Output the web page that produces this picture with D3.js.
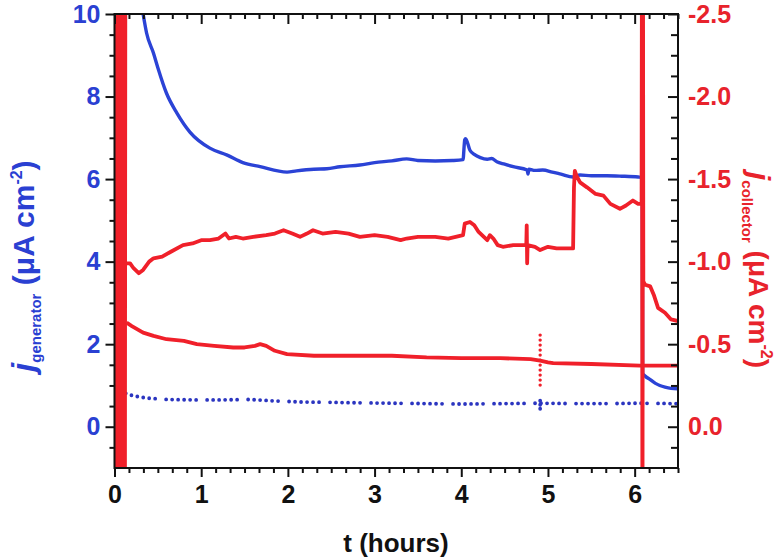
<!DOCTYPE html>
<html>
<head>
<meta charset="utf-8">
<script src="https://cdn.jsdelivr.net/npm/d3@7"></script>
<style>
  body { margin: 0; background: #fff; }
  text { font-family: "Liberation Sans", Arial, sans-serif; font-weight: bold; }
</style>
</head>
<body>
<svg id="chart"></svg>
<script>
// axis ticks
const hourTicks = [0, 1, 2, 3, 4, 5, 6];
const genTicks = [0, 2, 4, 6, 8, 10];
const colTicks = [-2.5, -2.0, -1.5, -1.0, -0.5, 0.0];

// generator current, solid trace (µA cm-2)
const genT = [0.33, 0.37, 0.45, 0.5, 0.6, 0.72, 0.87, 1.1, 1.3, 1.48, 1.68, 1.99, 2.1, 2.3, 2.45, 2.6, 2.83, 3.0, 3.2, 3.37, 3.5, 3.7, 3.9, 4.02, 4.04, 4.05, 4.1, 4.15, 4.22, 4.3, 4.35, 4.41, 4.5, 4.6, 4.76, 4.77, 4.78, 4.85, 4.94, 5.05, 5.15, 5.29, 5.37, 5.5, 5.68, 5.85, 6.04, 6.088, 6.092, 6.12, 6.18, 6.24, 6.29, 6.35, 6.42, 6.5];
const genJ = [10.0, 9.54, 9.05, 8.7, 8.08, 7.6, 7.14, 6.75, 6.58, 6.4, 6.3, 6.17, 6.2, 6.24, 6.25, 6.3, 6.34, 6.4, 6.44, 6.49, 6.45, 6.44, 6.45, 6.47, 6.95, 6.98, 6.7, 6.6, 6.52, 6.48, 6.5, 6.42, 6.36, 6.3, 6.22, 6.12, 6.24, 6.21, 6.22, 6.17, 6.12, 6.05, 6.1, 6.08, 6.08, 6.07, 6.05, 6.04, 1.3, 1.23, 1.14, 1.05, 1.0, 0.96, 0.93, 0.92];

// generator current, dotted trace
const genDotT = [0.13, 0.2, 0.29, 0.4, 0.6, 0.9, 1.2, 1.56, 1.8, 2.14, 2.5, 2.8, 3.2, 3.6, 4.0, 4.5, 4.91, 5.3, 5.7, 6.06, 6.5];
const genDotJ = [0.81, 0.76, 0.72, 0.69, 0.66, 0.65, 0.65, 0.66, 0.63, 0.6, 0.59, 0.58, 0.57, 0.56, 0.55, 0.56, 0.57, 0.56, 0.56, 0.57, 0.56];
const genDotSpikeT = [4.91, 4.91];
const genDotSpikeJ = [0.63, 0.41];

// collector current, upper trace (µA cm-2, right axis)
const colUpT = [0.14, 0.18, 0.22, 0.28, 0.33, 0.4, 0.45, 0.55, 0.65, 0.79, 0.9, 1.0, 1.1, 1.2, 1.28, 1.32, 1.4, 1.48, 1.6, 1.75, 1.85, 1.95, 2.05, 2.14, 2.22, 2.29, 2.4, 2.55, 2.7, 2.83, 3.0, 3.15, 3.3, 3.37, 3.5, 3.7, 3.85, 4.02, 4.04, 4.1, 4.15, 4.2, 4.3, 4.33, 4.37, 4.42, 4.48, 4.6, 4.75, 4.755, 4.76, 4.765, 4.85, 4.91, 5.0, 5.1, 5.2, 5.29, 5.3, 5.31, 5.33, 5.37, 5.45, 5.55, 5.64, 5.72, 5.83, 5.9, 5.98, 6.04, 6.08, 6.084, 6.09, 6.096, 6.1, 6.12, 6.18, 6.22, 6.27, 6.35, 6.42, 6.5];
const colUpJ = [-0.99, -0.99, -0.96, -0.93, -0.95, -1.0, -1.02, -1.03, -1.06, -1.1, -1.11, -1.13, -1.13, -1.14, -1.17, -1.14, -1.15, -1.14, -1.15, -1.16, -1.17, -1.19, -1.17, -1.15, -1.17, -1.19, -1.17, -1.18, -1.17, -1.15, -1.16, -1.15, -1.13, -1.14, -1.15, -1.15, -1.14, -1.16, -1.23, -1.24, -1.22, -1.18, -1.13, -1.16, -1.14, -1.1, -1.09, -1.1, -1.1, -1.22, -0.99, -1.1, -1.09, -1.07, -1.09, -1.08, -1.08, -1.08, -1.45, -1.55, -1.52, -1.48, -1.45, -1.41, -1.4, -1.35, -1.32, -1.34, -1.37, -1.35, -1.35, -3.0, 1.0, -3.0, -0.88, -0.86, -0.85, -0.8, -0.72, -0.69, -0.65, -0.64];

// collector current, lower trace
const colLowT = [0.14, 0.2, 0.33, 0.45, 0.6, 0.8, 0.95, 1.15, 1.37, 1.5, 1.62, 1.68, 1.75, 1.85, 1.99, 2.3, 2.7, 3.2, 3.6, 4.0, 4.45, 4.8, 4.91, 5.0, 5.06, 5.5, 6.06, 6.5];
const colLowJ = [-0.63, -0.61, -0.57, -0.55, -0.53, -0.52, -0.5, -0.49, -0.48, -0.48, -0.49, -0.5, -0.49, -0.46, -0.44, -0.43, -0.43, -0.43, -0.42, -0.415, -0.415, -0.41, -0.4, -0.39, -0.385, -0.38, -0.37, -0.37];
const colSpikeT = [4.91, 4.91];
const colSpikeJ = [-0.555, -0.23];

// collector start-up burst
const burstT = [0.012, 0.02, 0.028, 0.036, 0.044, 0.052, 0.06, 0.068, 0.076, 0.084, 0.092, 0.1, 0.108, 0.116, 0.124, 0.13];
const burstJ = [1.0, -3.0, 1.0, -3.0, 1.0, -3.0, 1.0, -3.0, 1.0, -3.0, 1.0, -3.0, 1.0, -3.0, 1.0, -3.0];

const W = 784, H = 559;
const m = { left: 114.5, right: 678, top: 14, bottom: 468 };
const blue = '#2b43d6', blueDot = '#2b35c0', blueText = '#2a40d2';
const red = '#f0202a', redText = '#e8232c';

const svg = d3.select('#chart').attr('width', W).attr('height', H);

const x = d3.scaleLinear().domain([0, 6.5]).range([m.left, m.right]);
const yL = d3.scaleLinear().domain([-1, 10]).range([m.bottom, m.top]);
const yR = d3.scaleLinear().domain([0.25, -2.5]).range([m.bottom, m.top]);

svg.append('clipPath').attr('id', 'plot')
  .append('rect')
  .attr('x', m.left).attr('y', m.top)
  .attr('width', m.right - m.left).attr('height', m.bottom - m.top);

const plot = svg.append('g').attr('clip-path', 'url(#plot)');

const zip = (ts, vs) => ts.map((t, i) => [t, vs[i]]);
const lineL = d3.line().x(d => x(d[0])).y(d => yL(d[1]));
const smoothL = d3.line().x(d => x(d[0])).y(d => yL(d[1])).curve(d3.curveMonotoneX);
const lineR = d3.line().x(d => x(d[0])).y(d => yR(d[1]));

// generator traces
plot.append('path')
  .attr('d', smoothL(zip(genT, genJ)))
  .attr('fill', 'none').attr('stroke', blue).attr('stroke-width', 3.4)
  .attr('stroke-linejoin', 'round');

plot.append('path')
  .attr('d', lineL(zip(genDotT, genDotJ)))
  .attr('fill', 'none').attr('stroke', blueDot).attr('stroke-width', 3.8)
  .attr('stroke-linecap', 'round')
  .attr('stroke-dasharray', '0,6,0,6,0,6,0,6,0,6,0,11');

plot.append('path')
  .attr('d', lineL(zip(genDotSpikeT, genDotSpikeJ)))
  .attr('fill', 'none').attr('stroke', blueDot).attr('stroke-width', 3.8)
  .attr('stroke-linecap', 'round').attr('stroke-dasharray', '0,4');

// collector traces
plot.append('path')
  .attr('d', lineR(zip(burstT, burstJ)))
  .attr('fill', 'none').attr('stroke', red).attr('stroke-width', 3);

plot.append('path')
  .attr('d', lineR(zip(colLowT, colLowJ)))
  .attr('fill', 'none').attr('stroke', red).attr('stroke-width', 3.8)
  .attr('stroke-linejoin', 'round');

plot.append('path')
  .attr('d', lineR(zip(colSpikeT, colSpikeJ)))
  .attr('fill', 'none').attr('stroke', red).attr('stroke-width', 3.4)
  .attr('stroke-linecap', 'round').attr('stroke-dasharray', '0,5');

plot.append('path')
  .attr('d', lineR(zip(colUpT, colUpJ)))
  .attr('fill', 'none').attr('stroke', red).attr('stroke-width', 3.8)
  .attr('stroke-linejoin', 'round');

// axes
const minorX = d3.range(0, 6.5001, 1 / 6).filter(v => Math.abs(v - Math.round(v)) > 1e-6);
const minorL = d3.range(-0.5, 10, 0.5).filter(v => v % 2 !== 0);
const minorR = d3.range(0.125, -2.5, -0.125).filter(v => Math.abs(v * 2 - Math.round(v * 2)) > 1e-6);

const styleAxis = (g, color) => {
  g.select('.domain').remove();
  g.selectAll('line').attr('stroke', '#111').attr('stroke-width', 2);
  g.selectAll('text').attr('fill', color).attr('font-size', 25).attr('font-weight', 'bold')
    .attr('font-family', '"Liberation Sans", Arial, sans-serif');
};

// bottom
svg.append('g').attr('transform', `translate(0,${m.bottom})`)
  .call(d3.axisBottom(x).tickValues(hourTicks).tickSize(9).tickPadding(8).tickFormat(d3.format('d')))
  .call(g => styleAxis(g, '#111'));
svg.append('g').attr('transform', `translate(0,${m.bottom})`)
  .call(d3.axisBottom(x).tickValues(minorX).tickSize(5).tickFormat(''))
  .call(g => styleAxis(g, '#111'));
// top
svg.append('g').attr('transform', `translate(0,${m.top})`)
  .call(d3.axisTop(x).tickValues(hourTicks).tickSize(-10).tickFormat(''))
  .call(g => styleAxis(g, '#111'));
svg.append('g').attr('transform', `translate(0,${m.top})`)
  .call(d3.axisTop(x).tickValues(minorX).tickSize(-5).tickFormat(''))
  .call(g => styleAxis(g, '#111'));
// left
svg.append('g').attr('transform', `translate(${m.left},0)`)
  .call(d3.axisLeft(yL).tickValues(genTicks).tickSize(9).tickPadding(5).tickFormat(d3.format('d')))
  .call(g => styleAxis(g, blueText));
svg.append('g').attr('transform', `translate(${m.left},0)`)
  .call(d3.axisLeft(yL).tickValues(minorL).tickSize(5).tickFormat(''))
  .call(g => styleAxis(g, blueText));
// right
svg.append('g').attr('transform', `translate(${m.right},0)`)
  .call(d3.axisRight(yR).tickValues(colTicks).tickSize(-10).tickPadding(10).tickFormat(d => d3.format('.1f')(d).replace('−', '-')))
  .call(g => styleAxis(g, redText));
svg.append('g').attr('transform', `translate(${m.right},0)`)
  .call(d3.axisRight(yR).tickValues(minorR).tickSize(-7).tickFormat(''))
  .call(g => styleAxis(g, redText));

// frame
svg.append('rect')
  .attr('x', m.left).attr('y', m.top)
  .attr('width', m.right - m.left).attr('height', m.bottom - m.top)
  .attr('fill', 'none').attr('stroke', '#111').attr('stroke-width', 2);

// axis titles
svg.append('text')
  .attr('x', 396).attr('y', 552)
  .attr('text-anchor', 'middle').attr('font-size', 26).attr('fill', '#111')
  .text('t (hours)');

const yTitle = (tx, ty, rot, sub, color, size) => {
  const t = svg.append('text')
    .attr('transform', `translate(${tx},${ty}) rotate(${rot})`)
    .attr('text-anchor', 'middle').attr('fill', color).attr('font-size', size);
  t.append('tspan').attr('font-style', 'italic').attr('font-size', size + 2).text('j');
  t.append('tspan').attr('font-size', 15).attr('dy', 7).text(sub);
  t.append('tspan').attr('dy', -7).text(' (μA cm');
  t.append('tspan').attr('font-size', 16).attr('dy', -12).text('-2');
  t.append('tspan').attr('dy', 12).text(')');
};
yTitle(34, 266, -90, 'generator', blueText, 30);
yTitle(749, 270, 90, 'collector', redText, 28);
</script>
</body>
</html>
